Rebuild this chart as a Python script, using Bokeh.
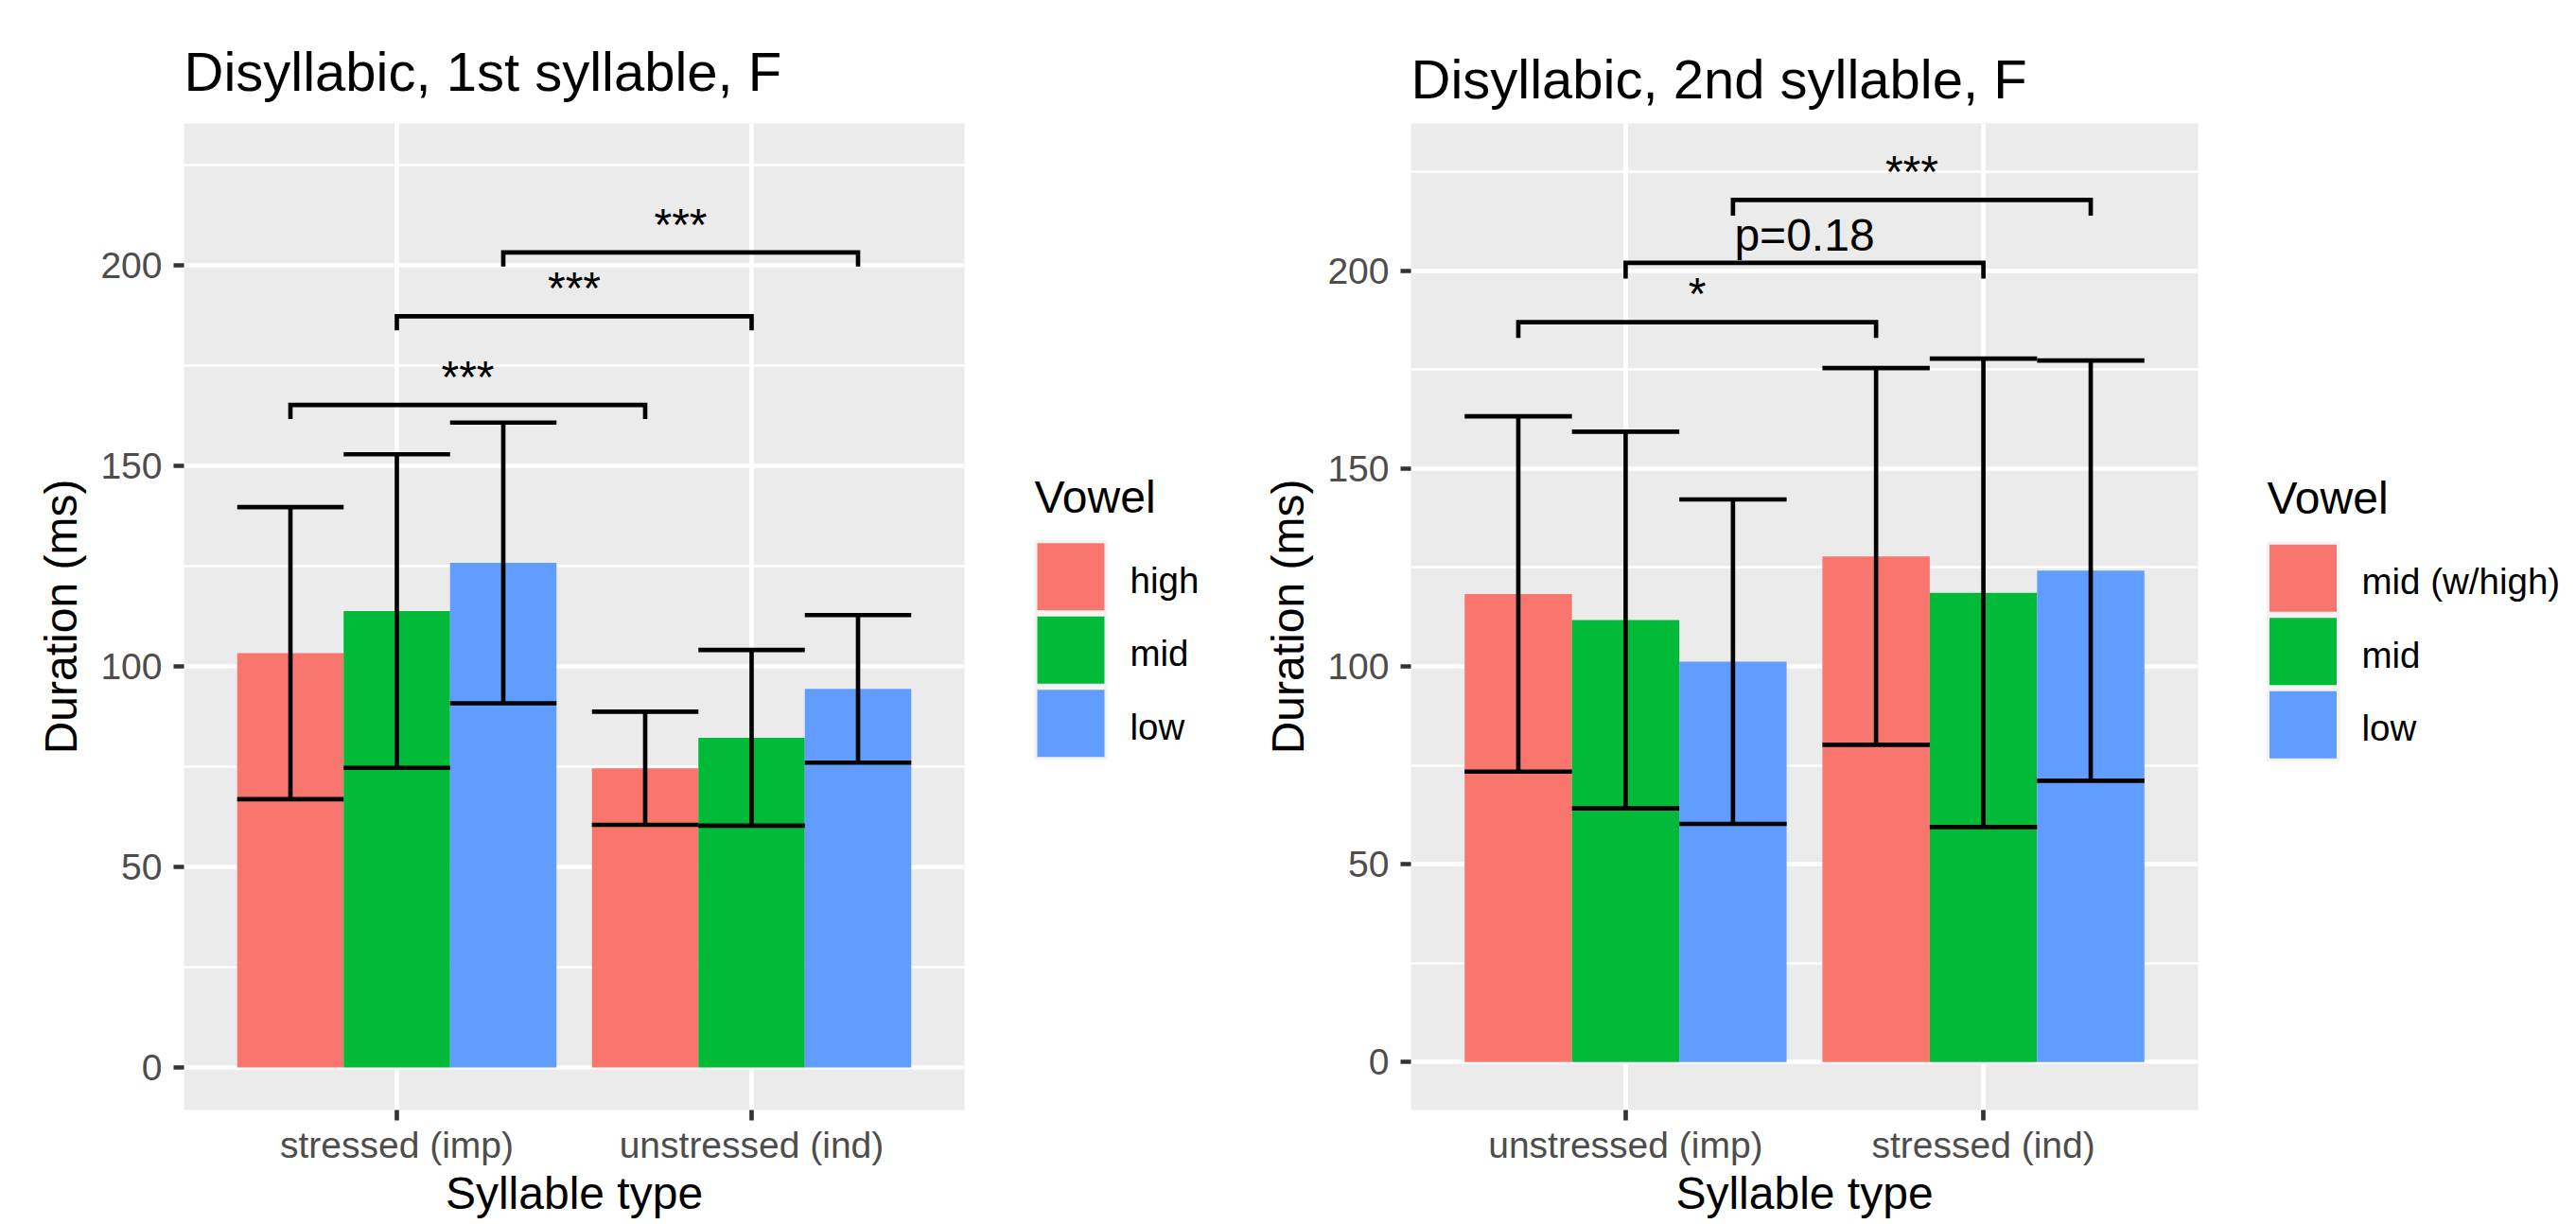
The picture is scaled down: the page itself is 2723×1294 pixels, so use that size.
from bokeh.plotting import figure
from bokeh.models import Range1d, FixedTicker, ColumnDataSource
from bokeh.layouts import row
from bokeh.core.properties import value
from bokeh.embed import file_html
from bokeh.resources import INLINE

FONT = "Liberation Sans"

# ---------------- data ----------------
title_1 = "Disyllabic, 1st syllable, F"
syllables_1 = ["stressed (imp)", "unstressed (ind)"]
vowels_1 = ["high", "mid", "low"]
means_1_stressed_imp = [103.3, 113.8, 125.8]
sds_1_stressed_imp = [36.4, 39.1, 35.0]
means_1_unstressed_ind = [74.6, 82.2, 94.4]
sds_1_unstressed_ind = [14.1, 21.9, 18.4]
sig_1_y = [165.2, 187.3, 203.2]
sig_1_labels = ["***", "***", "***"]

title_2 = "Disyllabic, 2nd syllable, F"
syllables_2 = ["unstressed (imp)", "stressed (ind)"]
vowels_2 = ["mid (w/high)", "mid", "low"]
means_2_unstressed_imp = [118.3, 111.7, 101.2]
sds_2_unstressed_imp = [44.9, 47.6, 41.0]
means_2_stressed_ind = [127.8, 118.6, 124.2]
sds_2_stressed_ind = [47.6, 59.2, 53.1]
sig_2_y = [187.0, 202.0, 217.9]
sig_2_labels = ["*", "p=0.18", "***"]

vowel_colors = ["#F8766D", "#00BA38", "#619CFF"]
y_major_ticks = [0, 50, 100, 150, 200]
y_minor_ticks = [25, 75, 125, 175, 225]
x_label = "Syllable type"
y_label = "Duration (ms)"
legend_title = "Vowel"

# ---------------- styling / layout ----------------
FIG_H = 1294
B_TOP = 130      # shared top border (row aligns frames)
B_BOT = 121      # shared bottom border
DODGE = 0.9
LW = 4.65
BASE_SHIFT = 0.35   # text anchor sits this many em above the glyph baseline


def dodge_x(g, v, n):
    w = DODGE / n
    return g + 1 + (v - (n - 1) / 2) * w


def panel(title, syllables, vowels, groups, sig_y, sig_labels, tip, y_lim, title_standoff,
          width, b_left, b_right):
    p = figure(width=width, height=FIG_H,
               x_range=Range1d(0.4, 2.6), y_range=Range1d(*y_lim),
               output_backend="svg", toolbar_location=None,
               min_border_left=b_left, min_border_right=b_right,
               min_border_top=B_TOP, min_border_bottom=B_BOT,
               background_fill_color="#EBEBEB", border_fill_color="white",
               outline_line_color=None, title=title)
    n = len(vowels)
    bw = DODGE / n
    x, top, col, lo, hi, xl, xr = [], [], [], [], [], [], []
    for g, (means, sds) in enumerate(groups):
        for v in range(n):
            xc = dodge_x(g, v, n)
            x.append(xc)
            top.append(means[v])
            col.append(vowel_colors[v])
            lo.append(means[v] - sds[v])
            hi.append(means[v] + sds[v])
            xl.append(xc - bw / 2)
            xr.append(xc + bw / 2)
    src = ColumnDataSource(dict(x=x, top=top, col=col, lo=lo, hi=hi, xl=xl, xr=xr))
    p.vbar(x="x", top="top", bottom=0, width=bw, fill_color="col", line_color=None, source=src)
    p.segment(x0="x", y0="lo", x1="x", y1="hi", line_color="black", line_width=LW, source=src)
    p.segment(x0="xl", y0="hi", x1="xr", y1="hi", line_color="black", line_width=LW, source=src)
    p.segment(x0="xl", y0="lo", x1="xr", y1="lo", line_color="black", line_width=LW, source=src)

    # significance brackets: same vowel, group 1 vs group 2
    bxs, bys, tx = [], [], []
    for v in range(n):
        x0 = dodge_x(0, v, n)
        x1 = dodge_x(1, v, n)
        y = sig_y[v]
        bxs.append([x0, x0, x1, x1])
        bys.append([y - tip, y, y, y - tip])
        tx.append((x0 + x1) / 2)
    p.multi_line(xs=bxs, ys=bys, line_color="black", line_width=LW, line_join="miter")
    p.text(x=tx, y=sig_y, text=sig_labels, text_align="center", text_baseline="alphabetic",
           y_offset=-(13 + BASE_SHIFT * 48),
           text_font=value(FONT), text_font_size="48px", text_color="black")

    # axes
    xt = FixedTicker(ticks=[1, 2])
    p.xaxis.ticker = xt
    p.xgrid.ticker = xt
    p.xaxis.major_label_overrides = {i + 1: s for i, s in enumerate(syllables)}
    yt = FixedTicker(ticks=y_major_ticks, minor_ticks=y_minor_ticks)
    p.yaxis.ticker = yt
    p.ygrid.ticker = yt

    p.xgrid.grid_line_color = "white"
    p.xgrid.grid_line_width = LW
    p.ygrid.grid_line_color = "white"
    p.ygrid.grid_line_width = LW
    p.ygrid.minor_grid_line_color = "white"
    p.ygrid.minor_grid_line_width = 2.3

    for ax in (p.xaxis[0], p.yaxis[0]):
        ax.axis_line_color = None
        ax.major_tick_line_color = "#333333"
        ax.major_tick_line_width = LW
        ax.major_tick_out = 11
        ax.major_tick_in = 0
        ax.minor_tick_line_color = None
        ax.major_label_text_font = FONT
        ax.major_label_text_font_size = "39px"
        ax.major_label_text_color = "#4D4D4D"
        ax.axis_label_text_font = FONT
        ax.axis_label_text_font_size = "48px"
        ax.axis_label_text_font_style = "normal"
        ax.axis_label_text_color = "black"
    p.xaxis.axis_label = x_label
    p.yaxis.axis_label = y_label
    p.xaxis.major_label_standoff = 4
    p.xaxis.axis_label_standoff = 0
    p.yaxis.major_label_standoff = 12
    p.yaxis.axis_label_standoff = 12

    p.title.text_font = FONT
    p.title.text_font_size = "58px"
    p.title.text_font_style = "normal"
    p.title.text_color = "black"
    p.title.align = "left"
    p.title.offset = 0
    p.title.standoff = title_standoff
    return p


def legend_fig(vowels, width, key_cx, key_cy0, label_x, title_x):
    # data units == pixels of the figure (y downwards)
    lp = figure(width=width, height=FIG_H,
                x_range=Range1d(0, width), y_range=Range1d(FIG_H - B_BOT, B_TOP),
                output_backend="svg", toolbar_location=None,
                min_border_left=0, min_border_right=0,
                min_border_top=B_TOP, min_border_bottom=B_BOT,
                x_axis_location=None, y_axis_location=None, outline_line_color=None,
                background_fill_color="white", border_fill_color="white")
    lp.xgrid.visible = False
    lp.ygrid.visible = False
    key = 71
    pitch = 77.5
    n = len(vowels)
    cys = [key_cy0 + i * pitch for i in range(n)]
    lp.quad(left=[key_cx - key / 2 - 3], right=[key_cx + key / 2 + 3],
            top=[cys[0] - key / 2 - 3], bottom=[cys[-1] + key / 2 + 3],
            fill_color="#F2F2F2", line_color=None)
    lp.quad(left=[key_cx - key / 2] * n, right=[key_cx + key / 2] * n,
            top=[c - key / 2 for c in cys], bottom=[c + key / 2 for c in cys],
            fill_color=vowel_colors[:n], line_color=None)
    lp.text(x=[label_x] * n, y=[c + 16.8 - BASE_SHIFT * 38.5 for c in cys], text=vowels,
            text_align="left", text_baseline="alphabetic",
            text_font=value(FONT), text_font_size="38.5px", text_color="black")
    lp.text(x=[title_x], y=[cys[0] - 67.5 - BASE_SHIFT * 48], text=[legend_title],
            text_align="left", text_baseline="alphabetic",
            text_font=value(FONT), text_font_size="48px", text_color="black")
    return lp


p1 = panel(title_1, syllables_1, vowels_1,
           [(means_1_stressed_imp, sds_1_stressed_imp), (means_1_unstressed_ind, sds_1_unstressed_ind)],
           sig_1_y, sig_1_labels, 3.5, (-10.61, 235.38), 46,
           width=1068, b_left=194, b_right=49)
l1 = legend_fig(vowels_1, 232, key_cx=63.5, key_cy0=609.2, label_x=126, title_x=25)
p2 = panel(title_2, syllables_2, vowels_2,
           [(means_2_unstressed_imp, sds_2_unstressed_imp), (means_2_stressed_ind, sds_2_stressed_ind)],
           sig_2_y, sig_2_labels, 4.0, (-12.12, 237.22), 30,
           width=1040, b_left=191, b_right=17)
l2 = legend_fig(vowels_2, 375, key_cx=94, key_cy0=610.7, label_x=156, title_x=56)

layout = row(p1, l1, p2, l2)
open("out.html", "w").write(file_html(layout, INLINE))
